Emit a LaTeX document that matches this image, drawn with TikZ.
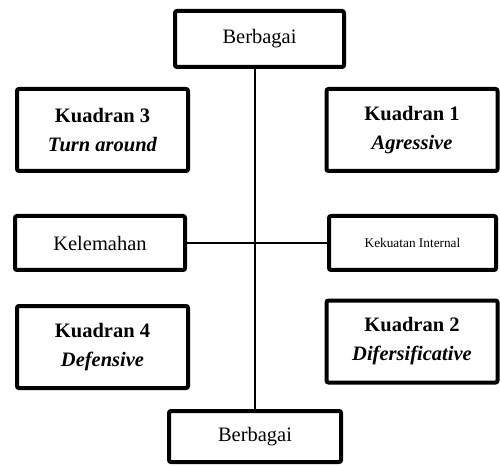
\documentclass[tikz,border=0pt]{standalone}
\usepackage{fontspec}
\setmainfont{Liberation Serif}
\usetikzlibrary{positioning}

\begin{document}
\begin{tikzpicture}[x=1pt,y=1pt,
  box/.style={draw,line width=4pt,rounded corners=2pt,inner sep=0pt,align=center,font=\fontsize{20.5}{29}\selectfont},
  axis/.style={line width=2pt}]
\useasboundingbox (0,0) rectangle (500,466);
\node[box,minimum width=169pt,minimum height=56pt] (top) at (259.5,427) {Berbagai};
\node[box,minimum width=172pt,minimum height=51pt] (bottom) at (255,29.5) {Berbagai};
\node[box,minimum width=170pt,minimum height=54pt] (lemah) at (100,223) {Kelemahan};
\node[box,minimum width=167pt,minimum height=54pt,font=\fontsize{13.3}{16}\selectfont] (kuat) at (412.5,223) {Kekuatan Internal};
% quadrants
\foreach \x/\y/\k/\s in {412/336/1/Agressive, 412/124.5/2/Difersificative, 102.5/336/3/Turn around, 102.5/119/4/Defensive}{
  \node[box,minimum width=171pt,minimum height=82pt] (q\k) at (\x,\y) {\textbf{Kuadran \k}\\\textbf{\textit{\s}}};
}
\draw[axis] (top.south -| bottom.north) -- (bottom.north);
\draw[axis] (lemah.east) -- (kuat.west);
\end{tikzpicture}
\end{document}
